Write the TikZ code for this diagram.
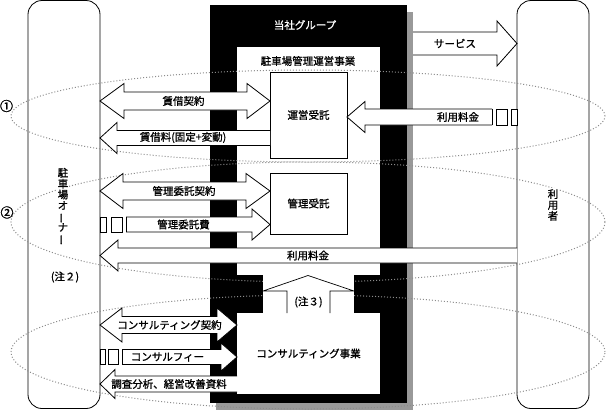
\documentclass[tikz,border=0pt]{standalone}
\usepackage{fontspec}
\setmainfont{Noto Sans CJK JP}[FakeBold=1.2]
\newcommand\blkL[6]{\path[arr] (#2,{#3-#4}) -- ({#1+#6},{#3-#4}) -- ({#1+#6},{#3-#5}) -- (#1,#3) -- ({#1+#6},{#3+#5}) -- ({#1+#6},{#3+#4}) -- (#2,{#3+#4});}
\newcommand\blkR[6]{\path[arr] (#2,{#3-#4}) -- ({#1-#6},{#3-#4}) -- ({#1-#6},{#3-#5}) -- (#1,#3) -- ({#1-#6},{#3+#5}) -- ({#1-#6},{#3+#4}) -- (#2,{#3+#4});}
\newcommand\blkD[7]{\path[arr] (#1,#3) -- ({#1+#6},{#3-#5}) -- ({#1+#6},{#3-#4}) -- ({#2-#7},{#3-#4}) -- ({#2-#7},{#3-#5}) -- (#2,#3) -- ({#2-#7},{#3+#5}) -- ({#2-#7},{#3+#4}) -- ({#1+#6},{#3+#4}) -- ({#1+#6},{#3+#5}) -- cycle;}
\newcommand\vbar{\smash{\rotatebox[origin=c]{90}{ー}}}
\begin{document}
\begin{tikzpicture}[x=1pt,y=-1pt]
\tikzset{
 pillar/.style={draw=black, line width=0.8pt, fill=white, rounded corners=14pt, minimum width=72pt, minimum height=408pt, inner sep=0pt},
 arr/.style={draw=black, fill=white, line width=0.8pt, line join=miter},
 ovl/.style={draw=black!45, line width=1pt, dash pattern=on 1pt off 2pt},
 lbl/.style={inner sep=0pt, font=\fontsize{10.5}{12}\selectfont},
 wlbl/.style={inner sep=1pt, fill=white, align=center, font=\fontsize{10.5}{10.9}\selectfont},
 ibox/.style={draw=black, line width=0.8pt, fill=white, inner sep=0pt},
 num/.style={inner sep=0pt, font=\fontsize{13}{13}\selectfont},
}
\useasboundingbox (0,0) rectangle (606,416);
% pillars
\node[pillar] (owner) at (64,204.5) {};
\node[pillar] (user) at (553,204.5) {};
% company group block
\fill[black!40] (216,12) rectangle (413,410);
\fill[black] (210,5) rectangle (407,403);
\fill[white] (237,47) rectangle (380,275);
\node[ibox, minimum width=77pt, minimum height=86pt] (unei) at (308.5,115) {};
\node[ibox, minimum width=77pt, minimum height=61pt] (kanri) at (308.5,203.5) {};
\node[ibox, draw=none, minimum width=143pt, minimum height=81pt] (consult) at (308.5,353.5) {};
% dotted groupings
\draw[ovl] (308,116) ellipse [x radius=297pt, y radius=46pt];
\draw[ovl] (308,222) ellipse [x radius=297pt, y radius=60pt];
\draw[ovl] (308,352) ellipse [x radius=297pt, y radius=57pt];
\node[num] (n1) at (6.5,106) {①};
\node[num] (n2) at (7,212.5) {②};
% (note 3) upward arrow
\fill[white] (263,275) rectangle (354,313);
\draw[line width=0.7pt] (287,313) -- (287,291) -- (263,291) -- (308,275.5) -- (354,291) -- (330,291) -- (330,313);
% block arrows
\blkR{517}{413}{43.5}{11.5}{22.5}{20}
\blkD{100}{270}{101}{9}{17.5}{24}{23}
\blkL{100}{270}{138}{7.5}{15.5}{17}
\blkL{347}{492}{117}{8}{15.5}{18}
\draw[line width=0.8pt] (492,109) -- (492,125);
\draw[arr] (496,109) rectangle (507,125);
\draw[arr] (511,109) rectangle (517,125);
\blkD{100}{270}{191}{9}{17.5}{23}{24}
\blkR{270}{126}{224.5}{7.5}{15.5}{18}
\draw[line width=0.8pt] (126,217) -- (126,232);
\draw[arr] (100,217) rectangle (106,232);
\draw[arr] (111,217) rectangle (122,232);
\blkL{100}{517}{255.5}{7.5}{15.5}{18}
\blkD{100}{237}{325}{8.5}{17}{22}{20}
\blkR{237}{122}{357}{7.5}{14}{16}
\draw[line width=0.8pt] (122,349.5) -- (122,364.5);
\draw[arr] (100,349.5) rectangle (105,364.5);
\draw[arr] (108,349.5) rectangle (118,364.5);
\blkL{100}{237}{384}{8}{14.5}{15}
% texts
\node[lbl, text=white] (group) at (305,25) {当社グループ};
\node[lbl] (jigyo) at (308,61) {駐車場管理運営事業};
\node[lbl] at (unei) {運営受託};
\node[lbl] at (kanri) {管理受託};
\node[lbl] at (consult) {コンサルティング事業};
\node[lbl] (note3) at (308.5,302) {(注３)};
\node[lbl] (service) at (455,43.5) {サービス};
\node[lbl] (t1) at (183.5,101) {賃借契約};
\node[lbl] (t2) at (183,137.5) {賃借料(固定+変動)};
\node[lbl] (t3) at (458,117) {利用料金};
\node[lbl] (t4) at (184,191) {管理委託契約};
\node[lbl] (t5) at (183.5,224.5) {管理委託費};
\node[lbl] (t6) at (308,255.5) {利用料金};
\node[lbl] (t7) at (169.5,325) {コンサルティング契約};
\node[lbl] (t8) at (167.5,357) {コンサルフィー};
\node[lbl] (t9) at (169,384) {調査分析、経営改善資料};
\node[wlbl] (ownername) at (63,205) {駐\\車\\場\\オ\\\vbar\\ナ\\\vbar};
\node[lbl] (note2) at (65,277) {(注２)};
\node[wlbl] (username) at (553,205) {利\\用\\者};
\end{tikzpicture}
\end{document}
